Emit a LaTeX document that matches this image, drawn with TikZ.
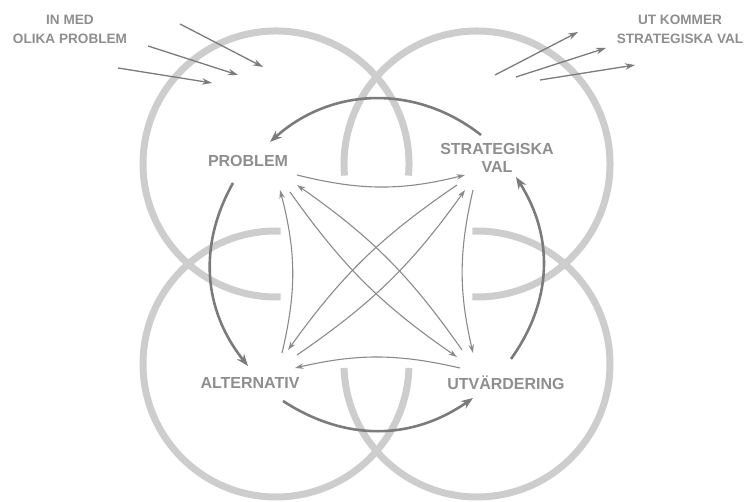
\documentclass[tikz,border=0pt]{standalone}
\usepackage{fontspec}
\setmainfont{Liberation Sans}
\usepackage{xcolor}
\usepackage{tikz}
\usetikzlibrary{arrows.meta, positioning}
\definecolor{cring}{HTML}{CDCDCD}
\definecolor{ccycle}{HTML}{7B7B7B}
\definecolor{clink}{HTML}{8A8A8A}
\definecolor{ctext}{HTML}{8E8E8E}

\begin{document}
\begin{tikzpicture}[
    x=1pt, y=1pt,
    ring/.style={draw=cring, line width=7pt},
    lbl/.style={text=ctext, font=\fontsize{16}{18}\selectfont\bfseries, align=center, inner sep=0pt},
    side/.style={text=ctext, font=\fontsize{13.6}{19}\selectfont\bfseries, align=center, inner sep=0pt},
    cycle/.style={draw=ccycle, line width=2.6pt, -{Stealth[length=12pt, width=9pt]}},
    link/.style={draw=clink, line width=1.1pt, -{Stealth[length=8.5pt, width=5.5pt]}},
    flow/.style={draw=ccycle, line width=1.3pt, -{Stealth[length=10pt, width=6.5pt]}}
]
\useasboundingbox (0,0) rectangle (746,502);

\foreach \cx/\cy/\a/\b in {276/338/-5/272, 477/338/-92/185, 276/138/88/358.3, 477/138/181.7/452}
  \draw[ring] (\cx,\cy) ++(\a:133) arc[start angle=\a, end angle=\b, radius=133];

\node[side] (in)  at (70,472.5)  {IN MED\\OLIKA PROBLEM};
\node[side] (out) at (680,472.5) {UT KOMMER\\STRATEGISKA VAL};

\node[lbl] (prob)  at (248,341) {PROBLEM};
\node[lbl] (strat) at (497,344) {STRATEGISKA\\VAL};
\node[lbl] (alt)   at (250,119) {ALTERNATIV};
\node[lbl] (utv)   at (506,119) {UTVÄRDERING};

\draw[cycle] ([shift={(-16,23)}]strat.center) to[bend right=40] ([shift={(22,19)}]prob.center);
\draw[cycle] ([shift={(-15,-22)}]prob.center) to[bend right=34] ([shift={(-2,17)}]alt.center);
\draw[cycle] ([shift={(33,-18)}]alt.center)   to[bend right=34] ([shift={(-33,-15)}]utv.center);
\draw[cycle] ([shift={(5,24)}]utv.center)     to[bend right=34] ([shift={(19,-19)}]strat.center);

\draw[link] ([shift={(49,-14)}]prob.center)  to[bend right=14] ([shift={(-32,-17)}]strat.center);
\draw[link] ([shift={(-24,-32)}]strat.center) to[bend right=13] ([shift={(-33,30)}]utv.center);
\draw[link] ([shift={(-46,15)}]utv.center)   to[bend right=13] ([shift={(45,15)}]alt.center);
\draw[link] ([shift={(32,30)}]alt.center)    to[bend right=14] ([shift={(32,-29)}]prob.center);

\draw[link] ([shift={(42,-31)}]prob.center)  to[bend right=10] ([shift={(-49,26)}]utv.center);
\draw[link] ([shift={(-44,33)}]utv.center)   to[bend right=10] ([shift={(49,-24)}]prob.center);
\draw[link] ([shift={(47,28)}]alt.center)    to[bend right=10] ([shift={(-32,-32)}]strat.center);
\draw[link] ([shift={(-40,-27)}]strat.center) to[bend right=10] ([shift={(38,33)}]alt.center);

\foreach \i/\sx/\sy/\ex/\ey in {1/180/478/263/435, 2/148/456/238/427, 3/118/434/212/419}{
  \coordinate (in\i s) at (\sx,\sy);
  \coordinate (in\i e) at (\ex,\ey);
  \draw[flow] (in\i s) -- (in\i e);
}
\foreach \i/\sx/\sy/\ex/\ey in {1/495/427/578/470, 2/516/425/606/454, 3/540/422/635/437}{
  \coordinate (out\i s) at (\sx,\sy);
  \coordinate (out\i e) at (\ex,\ey);
  \draw[flow] (out\i s) -- (out\i e);
}
\end{tikzpicture}
\end{document}
